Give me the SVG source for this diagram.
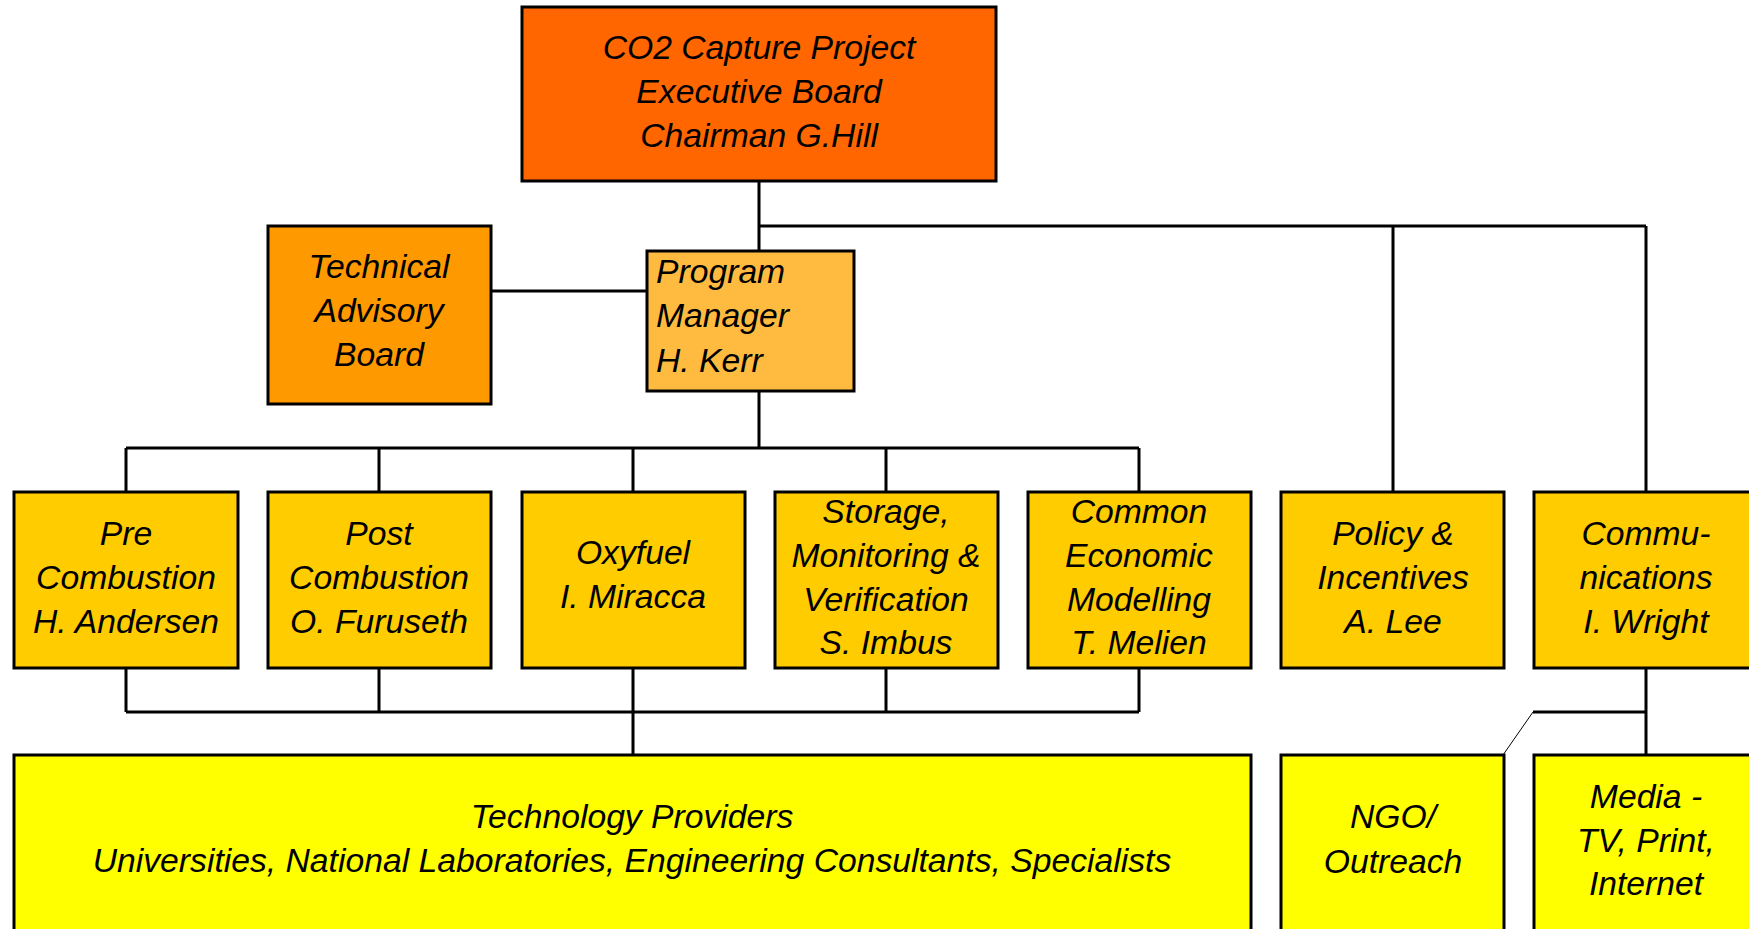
<svg xmlns="http://www.w3.org/2000/svg" width="1749" height="929" viewBox="0 0 1749 929">
<style>
.box{stroke:#000;stroke-width:3}
.t{font-family:"Liberation Sans",Arial,sans-serif;font-style:italic;font-size:33.7px;fill:#000;text-anchor:middle}
.l{text-anchor:start}
.c{fill:none;stroke:#000;stroke-width:3}
.thin{fill:none;stroke:#000;stroke-width:1}
</style>
<rect width="1749" height="929" fill="#fff"/>
<g id="connectors">
<path class="c" d="M759 181V251M759 226H1646M1393 226V492M1646 226V492"/>
<path class="c" d="M491 291H647"/>
<path class="c" d="M759 391V448M126 448H1139M126 448V492M379 448V492M633 448V492M886 448V492M1139 448V492"/>
<path class="c" d="M126 668V712M379 668V712M633 668V755M886 668V712M1139 668V712M126 712H1139"/>
<path class="c" d="M1646 668V755M1533 712H1646"/>
<path class="thin" d="M1533 712L1503 755"/>
</g>
<g id="exec">
<rect class="box" x="522" y="7" width="474" height="174" fill="#FF6600"/>
<text class="t" x="759" y="59">CO2 Capture Project</text>
<text class="t" x="759" y="103">Executive Board</text>
<text class="t" x="759" y="147">Chairman G.Hill</text>
</g>
<g id="tab">
<rect class="box" x="268" y="226" width="223" height="178" fill="#FF9900"/>
<text class="t" x="379" y="278">Technical</text>
<text class="t" x="379" y="322">Advisory</text>
<text class="t" x="379" y="366">Board</text>
</g>
<g id="pm">
<rect class="box" x="647" y="251" width="207" height="140" fill="#FFBB40" stroke-width="2"/>
<text class="t l" x="656" y="283">Program</text>
<text class="t l" x="656" y="327">Manager</text>
<text class="t l" x="656" y="372">H. Kerr</text>
</g>
<g id="pre">
<rect class="box" x="14" y="492" width="224" height="176" fill="#FFCC00"/>
<text class="t" x="126" y="545">Pre</text>
<text class="t" x="126" y="589">Combustion</text>
<text class="t" x="126" y="633">H. Andersen</text>
</g>
<g id="post">
<rect class="box" x="268" y="492" width="223" height="176" fill="#FFCC00"/>
<text class="t" x="379" y="545">Post</text>
<text class="t" x="379" y="589">Combustion</text>
<text class="t" x="379" y="633">O. Furuseth</text>
</g>
<g id="oxy">
<rect class="box" x="522" y="492" width="223" height="176" fill="#FFCC00"/>
<text class="t" x="633" y="564">Oxyfuel</text>
<text class="t" x="633" y="608">I. Miracca</text>
</g>
<g id="storage">
<rect class="box" x="775" y="492" width="223" height="176" fill="#FFCC00"/>
<text class="t" x="886" y="523">Storage,</text>
<text class="t" x="886" y="567">Monitoring &amp;</text>
<text class="t" x="886" y="611">Verification</text>
<text class="t" x="886" y="654">S. Imbus</text>
</g>
<g id="econ">
<rect class="box" x="1028" y="492" width="223" height="176" fill="#FFCC00"/>
<text class="t" x="1139" y="523">Common</text>
<text class="t" x="1139" y="567">Economic</text>
<text class="t" x="1139" y="611">Modelling</text>
<text class="t" x="1139" y="654">T. Melien</text>
</g>
<g id="policy">
<rect class="box" x="1281" y="492" width="223" height="176" fill="#FFCC00"/>
<text class="t" x="1393" y="545">Policy &amp;</text>
<text class="t" x="1393" y="589">Incentives</text>
<text class="t" x="1393" y="633">A. Lee</text>
</g>
<g id="comm">
<rect class="box" x="1534" y="492" width="224" height="176" fill="#FFCC00"/>
<text class="t" x="1646" y="545">Commu-</text>
<text class="t" x="1646" y="589">nications</text>
<text class="t" x="1646" y="633">I. Wright</text>
</g>
<g id="tech">
<rect class="box" x="14" y="755" width="1237" height="190" fill="#FFFF00"/>
<text class="t" x="632" y="828">Technology Providers</text>
<text class="t" x="632" y="872">Universities, National Laboratories, Engineering Consultants, Specialists</text>
</g>
<g id="ngo">
<rect class="box" x="1281" y="755" width="223" height="190" fill="#FFFF00"/>
<text class="t" x="1393" y="828">NGO/</text>
<text class="t" x="1393" y="873">Outreach</text>
</g>
<g id="media">
<rect class="box" x="1534" y="755" width="224" height="190" fill="#FFFF00"/>
<text class="t" x="1646" y="808">Media -</text>
<text class="t" x="1646" y="852">TV, Print,</text>
<text class="t" x="1646" y="895">Internet</text>
</g>
</svg>
